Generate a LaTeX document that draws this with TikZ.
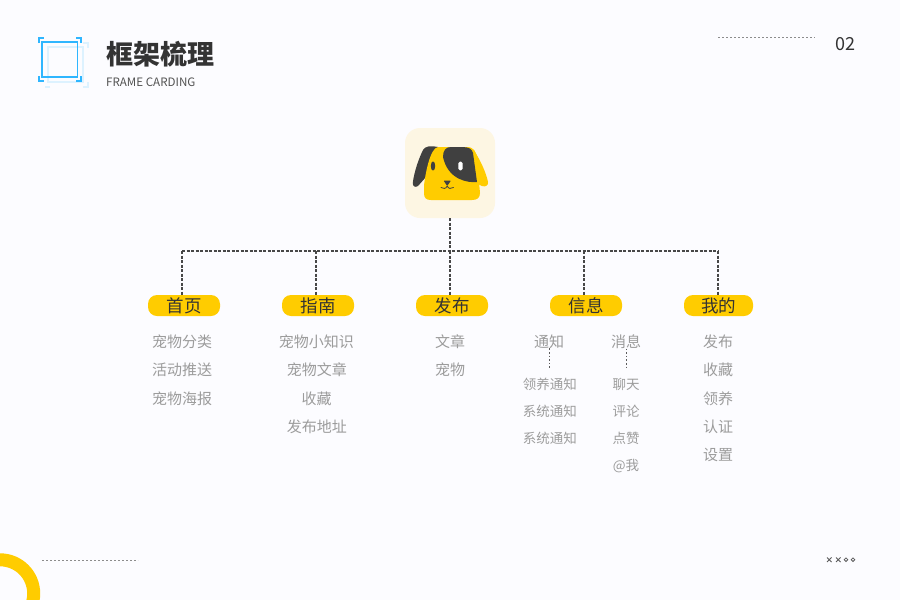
\documentclass[tikz,border=0pt]{standalone}
\usepackage{fontspec}
\setmainfont{Noto Sans CJK SC}
\usetikzlibrary{calc}
\definecolor{bgc}{HTML}{FCFCFF}
\definecolor{ylw}{HTML}{FFCC00}
\definecolor{ink}{HTML}{333333}
\definecolor{soft}{HTML}{9C9C9C}
\definecolor{cream}{HTML}{FDF6E3}
\definecolor{blu}{HTML}{2FB6FF}
\definecolor{pale}{HTML}{DDF2FF}
\definecolor{dogdark}{HTML}{404040}
\newcommand{\fsz}[1]{\fontsize{#1}{#1}\selectfont}
\tikzset{
  pill/.style={fill=ylw,rounded corners=9pt,minimum height=21pt,inner sep=0pt,text=ink,font=\fsz{17.5}},
  item/.style={text=soft,font=\fsz{15},inner sep=0pt,anchor=center},
  subitem/.style={text=soft,font=\fsz{13.5},inner sep=0pt,anchor=center},
  bus/.style={draw=ink!90,line width=1.4pt,dash pattern=on 3pt off 1.5pt},
  thin dots/.style={draw=black!45,line width=1pt,dash pattern=on 2pt off 2pt},
  sub dots/.style={draw=ink!80,line width=0.9pt,dash pattern=on 1.6pt off 2pt},
}
\begin{document}
\begin{tikzpicture}[x=1pt,y=-1pt]
\useasboundingbox (0,0) rectangle (900,600);
\fill[bgc] (0,0) rectangle (900,600);
% header icon: pale frame
\draw[pale,line width=1.5pt] (48,47) rectangle (83,82);
\draw[pale,line width=1.5pt] (83,43) -- (88,43) -- (88,48);
\draw[pale,line width=1.5pt] (88,82) -- (88,87) -- (83,87);
\draw[pale,line width=1.5pt] (50,87) -- (45,87);
% header icon: blue frame
\draw[blu,line width=1.9pt] (42,42) rectangle (77.5,77);
\draw[blu,line width=1.9pt] (38.8,43) -- (38.8,38.2) -- (44,38.2);
\draw[blu,line width=1.9pt] (76,38.2) -- (81.2,38.2) -- (81.2,43);
\draw[blu,line width=1.9pt] (38.8,76) -- (38.8,80.6) -- (44,80.6);
\draw[blu,line width=1.9pt] (76,80.6) -- (81.2,80.6) -- (81.2,76);
% header text
\node[anchor=west,inner sep=0pt,text=ink,font=\fsz{27}\bfseries] (title) at (106,54) {框架梳理};
\node[anchor=west,inner sep=0pt,text=ink!85,font=\fsz{11.6}] (subtitle) at (106,82) {FRAME CARDING};
\node[inner sep=0pt,text=ink,font=\fsz{18}] (page) at (845,44) {02};
% decorations
\coordinate (d1a) at (718,37); \coordinate (d1b) at (815,37);
\draw[thin dots] (d1a) -- (d1b);
\coordinate (d2a) at (42,560); \coordinate (d2b) at (138,560);
\draw[thin dots] (d2a) -- (d2b);
\begin{scope}
\clip (0,0) rectangle (900,600);
\draw[ylw,line width=13pt] (0,593.5) circle (33.7);
\end{scope}
\begin{scope}[ink!80,line width=0.8pt]
\draw (827,557.5) -- (831.5,562) (827,562) -- (831.5,557.5);
\draw (836,557.5) -- (840.5,562) (836,562) -- (840.5,557.5);
\draw (846,559.7) circle (1.8);
\draw (853,559.7) circle (1.8);
\end{scope}
% app icon
\node[fill=cream,rounded corners=15pt,minimum width=90pt,minimum height=90pt,inner sep=0pt] (app) at (450,173) {};
% dog
\fill[dogdark] (412.8,183) .. controls (414,172) and (419,158) .. (423,150) .. controls (425,146) and (431,145.5) .. (438,147) -- (438,175) -- (426,177) -- (418,186) .. controls (415,188) and (412.5,186) .. (412.8,183) -- cycle;
\fill[ylw] (465,147) .. controls (470,147) and (473,148) .. (475,152) .. controls (480,160) and (486,172) .. (488,182) .. controls (488.5,186) and (485,187) .. (482,186) -- (470,180) -- cycle;
\fill[ylw] (438,147) -- (466,147) .. controls (474,147) and (477,152) .. (477,160) -- (480,193) .. controls (480,198) and (477,200) .. (472,200) -- (431,200) .. controls (426,200) and (424,198) .. (424,193) -- (424,186) .. controls (425,175) and (430,148) .. (438,147) -- cycle;
\fill[dogdark] (443,157) .. controls (443,150) and (446,147) .. (451,147) -- (462,147) .. controls (469,147) and (472,149) .. (473,153) -- (477,182) .. controls (468,183) and (448,180) .. (443,157) -- cycle;
\fill[dogdark] (433,166) ellipse (2.2 and 4.6);
\fill[white,rounded corners=1.6pt] (458.4,161.7) rectangle (462.6,170.3);
\fill[dogdark,rounded corners=0.8pt] (443.5,180.5) -- (451,180.5) -- (447.2,186) -- cycle;
\draw[dogdark,line width=0.8pt,line cap=round] (441,187.5) .. controls (443,189) and (446,189) .. (447.2,186) .. controls (448.4,189) and (451,189) .. (453.5,187.5);
% pills
\node[pill,minimum width=72pt] (p1) at (184,305.5) {首页};
\node[pill,minimum width=72pt] (p2) at (318,305.5) {指南};
\node[pill,minimum width=72pt] (p3) at (452,305.5) {发布};
\node[pill,minimum width=72pt] (p4) at (586,305.5) {信息};
\node[pill,minimum width=69pt] (p5) at (718.5,305.5) {我的};
% connectors
\coordinate (b1) at (182,251);
\coordinate (b2) at (316,251);
\coordinate (b3) at (450,251);
\coordinate (b4) at (584,251);
\coordinate (b5) at (718,251);
\draw[bus] (b1) -- (b5);
\draw[bus] (app.south) -- (b3);
\draw[bus] (b1) -- (b1 |- p1.north);
\draw[bus] (b2) -- (b2 |- p2.north);
\draw[bus] (b3) -- (b3 |- p3.north);
\draw[bus] (b4) -- (b4 |- p4.north);
\draw[bus] (b5) -- (b5 |- p5.north);
% lists
\node[item] (a1) at (182,341.4) {宠物分类};
\node[item] (a2) at (182,369.9) {活动推送};
\node[item] (a3) at (182,398.4) {宠物海报};
\node[item] (c1) at (316.3,341.4) {宠物小知识};
\node[item] (c2) at (316.8,369.9) {宠物文章};
\node[item] (c3) at (316.5,398.4) {收藏};
\node[item] (c4) at (316.8,426.9) {发布地址};
\node[item] (e1) at (450,341.4) {文章};
\node[item] (e2) at (450,369.9) {宠物};
\node[item] (f0) at (549,341.4) {通知};
\node[item] (g0) at (626,341.4) {消息};
\node[subitem] (f1) at (549.8,384.8) {领养通知};
\node[subitem] (f2) at (549.8,411.8) {系统通知};
\node[subitem] (f3) at (549.8,438.8) {系统通知};
\node[subitem] (g1) at (626,384.8) {聊天};
\node[subitem] (g2) at (626,411.8) {评论};
\node[subitem] (g3) at (626,438.8) {点赞};
\node[subitem] (g4) at (626,466) {@我};
\node[item] (h1) at (718,341.4) {发布};
\node[item] (h2) at (718,369.9) {收藏};
\node[item] (h3) at (718,398.4) {领养};
\node[item] (h4) at (718,426.9) {认证};
\node[item] (h5) at (718,455.4) {设置};
\coordinate (fe) at (549,369);
\coordinate (ge) at (626.5,369);
\draw[sub dots] (fe |- f0.south) -- (fe);
\draw[sub dots] (ge |- g0.south) -- (ge);
\end{tikzpicture}
\end{document}
